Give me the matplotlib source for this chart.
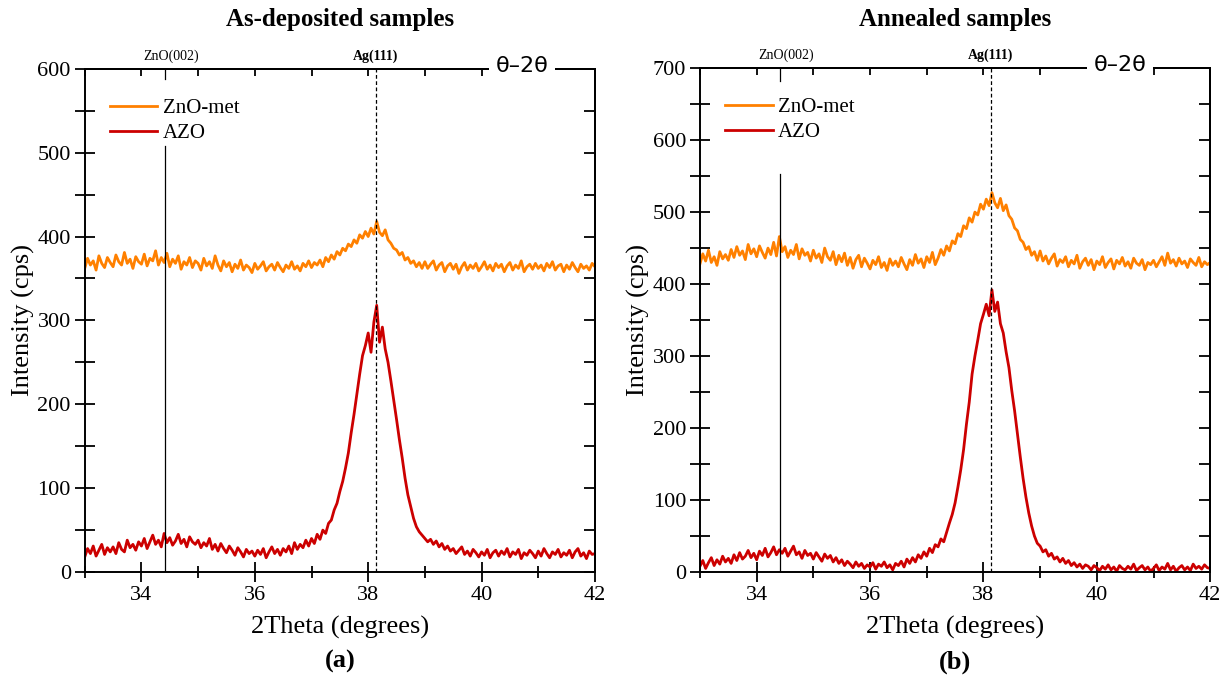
import numpy as np
import matplotlib
matplotlib.use("Agg")
import matplotlib.pyplot as plt
from matplotlib.ticker import MultipleLocator

plt.rcParams['font.family'] = ['Liberation Serif', 'DejaVu Serif']

# 2theta grid, 0.05 deg step from 33 to 42 (181 points)
two_theta = np.round(np.arange(33.0, 42.0001, 0.05), 2)

# As-deposited, ZnO-met
asdep_znomet = [
    362, 374, 366, 371, 360, 377, 368, 363, 375, 369,
    364, 378, 370, 366, 381, 368, 373, 362, 376, 370,
    367, 379, 365, 374, 371, 383, 366, 375, 369, 380,
    364, 373, 368, 377, 361, 370, 366, 375, 363, 371,
    368, 360, 374, 365, 370, 362, 377, 366, 359, 371,
    364, 369, 358, 367, 362, 372, 360, 366, 363, 357,
    368, 361, 365, 370, 359, 364, 367, 360, 369, 363,
    358, 366, 362, 370, 361, 365, 359, 368, 364, 371,
    363, 369, 366, 372, 364, 375, 370, 378, 373, 382,
    378, 386, 383, 391, 388, 396, 392, 402, 398, 406,
    400, 410, 403, 418, 405, 401, 408, 396, 392, 386,
    384, 378, 381, 372, 375, 368, 371, 364, 369, 362,
    370, 362, 367, 371, 360, 366, 369, 358, 365, 368,
    361, 367, 356, 364, 369, 360, 366, 362, 368, 359,
    364, 370, 361, 366, 359, 368, 363, 367, 358, 365,
    369, 360, 366, 362, 371, 358, 364, 367, 361, 368,
    362, 366, 359, 368, 363, 370, 360, 365, 367, 358,
    366, 361, 369, 363, 358, 367, 362, 365, 360, 368,
    364,
]

# As-deposited, AZO
asdep_azo = [
    18, 28, 22, 31, 19, 26, 33, 21, 29, 24,
    30, 22, 35, 27, 24, 38, 29, 33, 26, 36,
    31, 40, 28, 36, 44, 33, 38, 30, 46, 35,
    41, 32, 37, 45, 34, 39, 30, 42, 36, 33,
    38, 29, 35, 31, 40, 27, 33, 25, 34, 28,
    23, 31, 26, 20, 29, 24, 18, 27, 22, 25,
    19, 26, 21, 28, 17, 24, 30, 22, 27, 20,
    28, 24, 31, 22, 35, 27, 33, 29, 38, 31,
    40, 34, 45, 39, 50, 46, 58, 62, 74, 82,
    96, 108, 124, 142, 166, 188, 212, 236, 258, 270,
    285, 262, 298, 318, 274, 292, 266, 250, 228, 205,
    182, 158, 136, 112, 92, 78, 64, 54, 48, 44,
    40, 36, 39, 33, 37, 30, 34, 27, 31, 25,
    28, 22, 26, 30, 21, 25, 19, 27, 23, 18,
    24, 20, 27, 17, 23, 26, 19, 25, 21, 28,
    18, 24, 21, 27, 16, 23, 20, 26, 22, 17,
    25, 19, 28, 22, 17, 24, 21, 27, 18, 23,
    20, 26, 17, 24, 28, 19, 23, 16, 25, 21,
    22,
]

# Annealed, ZnO-met
ann_znomet = [
    428, 442, 432, 447, 430, 438, 426, 445, 435, 441,
    433, 448, 437, 452, 440, 446, 434, 455, 442, 449,
    438, 453, 444, 436, 450, 441, 458, 439, 466, 445,
    452, 437, 447, 441, 455, 435, 449, 440, 444, 432,
    447, 436, 442, 430, 450, 438, 433, 445, 427, 440,
    431, 443, 426, 437, 422, 434, 440, 424, 436, 429,
    421, 433, 427, 438, 423, 430, 419, 435, 426, 432,
    424, 437, 428, 420, 434, 426, 441, 429, 435, 423,
    438, 430, 444, 427, 436, 448, 440, 453, 446, 460,
    456, 470, 466, 481, 477, 492, 486, 500, 496, 511,
    504, 518, 509, 527, 513, 506, 519, 502, 510, 495,
    490, 478, 474, 462, 458, 448, 452, 440, 445, 433,
    446, 432, 439, 428, 436, 442, 425, 434, 430, 438,
    424, 433, 428, 440, 422, 431, 436, 426, 434, 420,
    432, 427, 438, 423, 430, 435, 421, 433, 428, 437,
    425, 431, 422, 436, 429, 426, 434, 420, 430, 427,
    433, 424, 431, 438, 426, 443, 429, 434, 425, 436,
    428, 432, 423, 435, 430, 426, 437, 424, 431, 427,
    430,
]

# Annealed, AZO
ann_azo = [
    8, 16, 5, 13, 20, 9, 17, 11, 22, 14,
    19, 12, 24, 16, 27, 18, 22, 30, 20, 26,
    17, 29, 23, 33, 21, 27, 35, 24, 31, 26,
    33, 22, 29, 36, 24, 28, 19, 30, 23, 26,
    18, 27, 21, 15, 25, 19, 23, 14, 20, 12,
    17, 9, 15, 11, 6, 14, 8, 12, 5, 10,
    7, 13, 4, 11, 8, 14, 6, 10, 3, 12,
    9, 15, 7, 18, 12, 20, 14, 24, 19, 28,
    22, 33, 27, 38, 35, 46, 42, 55, 68, 80,
    96, 118, 142, 170, 205, 236, 275, 300, 322, 345,
    358, 372, 356, 392, 362, 375, 345, 332, 306, 284,
    252, 224, 192, 160, 130, 104, 82, 64, 50, 40,
    36, 28, 31, 22, 26, 18, 21, 14, 19, 12,
    16, 9, 13, 7, 11, 5, 10, 8, 3, 9,
    6, 2, 8, 4, 10, 3, 7, 1, 9, 5,
    3, 8, 4, 11, 2, 6, 9, 3, 7, 1,
    5, 10, 2, 7, 4, 12, 3, 8, 1, 6,
    9, 3, 7, 2, 11, 5, 8, 4, 10, 6,
    5,
]

zno_002 = 34.42
ag_111 = 38.13

panels = [
    dict(title='As-deposited samples', tag='(a)', znomet=asdep_znomet, azo=asdep_azo,
         ymax=600, pos=[0.069, 0.160, 0.4155, 0.739], theta_x=0.857,
         gap=(0.847, 0.980)),
    dict(title='Annealed samples', tag='(b)', znomet=ann_znomet, azo=ann_azo,
         ymax=700, pos=[0.570, 0.160, 0.4155, 0.740], theta_x=0.824,
         gap=(0.790, 0.974)),
]

orange = '#FF8000'
red = '#CC0000'

fig = plt.figure(figsize=(12.28, 6.81), dpi=100)

for p in panels:
    ax = fig.add_axes(p['pos'])
    ax.plot(two_theta, p['znomet'], color=orange, lw=2.0, label='ZnO-met', zorder=2)
    ax.plot(two_theta, p['azo'], color=red, lw=2.0, label='AZO', zorder=2)

    # ZnO(002) reference line, interrupted where the legend sits
    ax.axvline(zno_002, ymin=0, ymax=p['gap'][0], color='black', lw=0.9, zorder=3)
    ax.axvline(zno_002, ymin=p['gap'][1], ymax=1, color='black', lw=0.9, zorder=3)
    # Ag(111) reference line
    ax.axvline(ag_111, color='black', lw=0.9, ls=(0, (3, 2)), zorder=3)

    ax.set_xlim(33, 42)
    ax.set_ylim(0, p['ymax'])
    ax.xaxis.set_major_locator(MultipleLocator(2))
    ax.xaxis.set_minor_locator(MultipleLocator(1))
    ax.yaxis.set_major_locator(MultipleLocator(100))
    ax.yaxis.set_minor_locator(MultipleLocator(50))
    ax.tick_params(axis='both', which='major', direction='inout', length=14, width=1.3,
                   labelsize=16, top=False, right=False, pad=3)
    ax.tick_params(axis='x', which='minor', direction='inout', length=9, width=1.3,
                   top=False)
    ax.tick_params(axis='y', which='minor', direction='inout', length=14, width=1.3,
                   right=False)
    for s in ax.spines.values():
        s.set_linewidth(1.4)

    # inward ticks on top and right
    secx = ax.secondary_xaxis('top')
    secx.xaxis.set_major_locator(MultipleLocator(1))
    secx.tick_params(direction='in', length=5, width=1.3, labeltop=False)
    secx.spines['top'].set_linewidth(1.4)
    secy = ax.secondary_yaxis('right')
    secy.yaxis.set_major_locator(MultipleLocator(50))
    secy.tick_params(direction='in', length=8, width=1.3, labelright=False)
    secy.spines['right'].set_linewidth(1.4)

    ax.set_xlabel('2Theta (degrees)', fontsize=19, labelpad=8)
    ax.set_ylabel('Intensity (cps)', fontsize=19, labelpad=2)

    ax.legend(loc='upper left', bbox_to_anchor=(0.02, 0.97), fontsize=15,
              frameon=False, handlelength=2.3, handletextpad=0.25,
              labelspacing=0.25, borderpad=0.2)

    # peak labels above the frame
    ax.text(zno_002 + 0.1, 1.012, 'ZnO(002)', transform=ax.get_xaxis_transform(),
            ha='center', va='bottom', fontsize=10)
    ax.text(ag_111, 1.012, 'Ag(111)', transform=ax.get_xaxis_transform(),
            ha='center', va='bottom', fontsize=10, fontweight='bold')

    x0, y0, w, h = p['pos']
    fig.text(x0 + p['theta_x'] * w, y0 + h + 0.004, 'θ–2θ', ha='center', va='center',
             fontsize=16, family='DejaVu Sans', zorder=10,
             bbox=dict(boxstyle='square,pad=0.3', facecolor='white', edgecolor='none'))
    fig.text(x0 + w / 2, 0.972, p['title'], ha='center', va='center',
             fontsize=18, fontweight='bold')
    fig.text(x0 + w / 2, 0.028, p['tag'], ha='center', va='center',
             fontsize=19, fontweight='bold')

fig.savefig('out.png', dpi=100, facecolor='white')
